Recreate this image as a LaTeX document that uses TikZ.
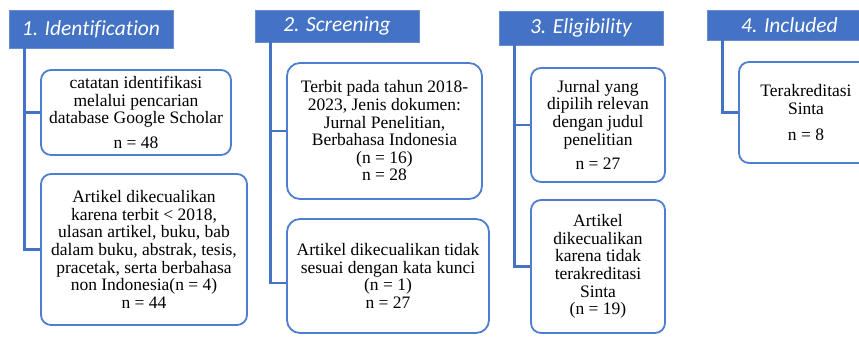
\documentclass[tikz,border=0pt]{standalone}
\usepackage{fontspec}
\setmainfont{Liberation Serif}
\newfontfamily\hdrfont[Ligatures={NoCommon}]{Carlito}
\definecolor{hblue}{HTML}{4472C4}
\definecolor{bblue}{HTML}{4F7ED0}
\begin{document}
\begin{tikzpicture}[x=1pt,y=-1pt,
  hdr/.style={rectangle, fill=hblue, draw=hblue!80!white, line width=0.8pt, inner sep=0pt,
    text=white, font=\hdrfont\itshape\fontsize{21.5}{23}\selectfont},
  boxnode/.style={rectangle, draw=bblue, line width=1.8pt, rounded corners=10pt, fill=white,
    inner sep=0pt, align=center, font=\fontsize{17.5}{17.6}\selectfont},
  link/.style={draw=hblue, line width=2.4pt}]
\useasboundingbox (0,0) rectangle (859,337);
\begin{scope}
\clip (0,0) rectangle (859,337);
% headers
\node[hdr, minimum width=164pt, minimum height=38pt] (h1) at (91,29) {1. Identification};
\node[hdr, minimum width=164pt, minimum height=32pt] (h2) at (337,26) {2. Screening};
\node[hdr, minimum width=164pt, minimum height=34pt] (h3) at (581,28) {3. Eligibility};
\node[hdr, minimum width=165pt, minimum height=30pt] (h4) at (789.5,25) {4. Included};
% boxes
\node[boxnode, minimum width=190pt, minimum height=85pt] (b1a) at (136,112.5)
  {catatan identifikasi\\melalui pencarian\\database Google Scholar\\[7pt]n = 48};
\node[boxnode, minimum width=206pt, minimum height=151pt] (b1b) at (144,249.5)
  {Artikel dikecualikan\\karena terbit < 2018,\\ulasan artikel, buku, bab\\dalam buku, abstrak, tesis,\\pracetak, serta berbahasa\\non Indonesia(n = 4)\\n = 44};
\node[boxnode, minimum width=195pt, minimum height=136pt, rounded corners=13pt] (b2a) at (384.5,131)
  {Terbit pada tahun 2018-\\2023, Jenis dokumen:\\Jurnal Penelitian,\\Berbahasa Indonesia\\(n = 16)\\n = 28};
\node[boxnode, minimum width=202pt, minimum height=114pt, rounded corners=13pt] (b2b) at (388,276)
  {Artikel dikecualikan tidak\\sesuai dengan kata kunci\\(n = 1)\\n = 27};
\node[boxnode, minimum width=134pt, minimum height=114pt] (b3a) at (598,125)
  {Jurnal yang\\dipilih relevan\\dengan judul\\penelitian\\[7pt]n = 27};
\node[boxnode, minimum width=134pt, minimum height=133pt] (b3b) at (598,266.5)
  {Artikel\\dikecualikan\\karena tidak\\terakreditasi\\Sinta\\(n = 19)};
\node[boxnode, minimum width=134pt, minimum height=101pt] (b4) at (806,112.5)
  {Terakreditasi\\Sinta\\[8pt]n = 8};
% connectors
\draw[link] ([xshift=16pt]h1.south west) |- (b1b.west);
\draw[link] ([xshift=16pt]h1.south west) |- (b1a.west);
\draw[link] ([xshift=16pt]h2.south west) |- ([yshift=-7pt]b2b.west);
\draw[link] ([xshift=16pt]h2.south west) |- (b2a.west);
\draw[link] ([xshift=16pt]h3.south west) |- (b3b.west);
\draw[link] ([xshift=16pt]h3.south west) |- (b3a.west);
\draw[link] ([xshift=16pt]h4.south west) |- (b4.west);
\end{scope}
\end{tikzpicture}
\end{document}
